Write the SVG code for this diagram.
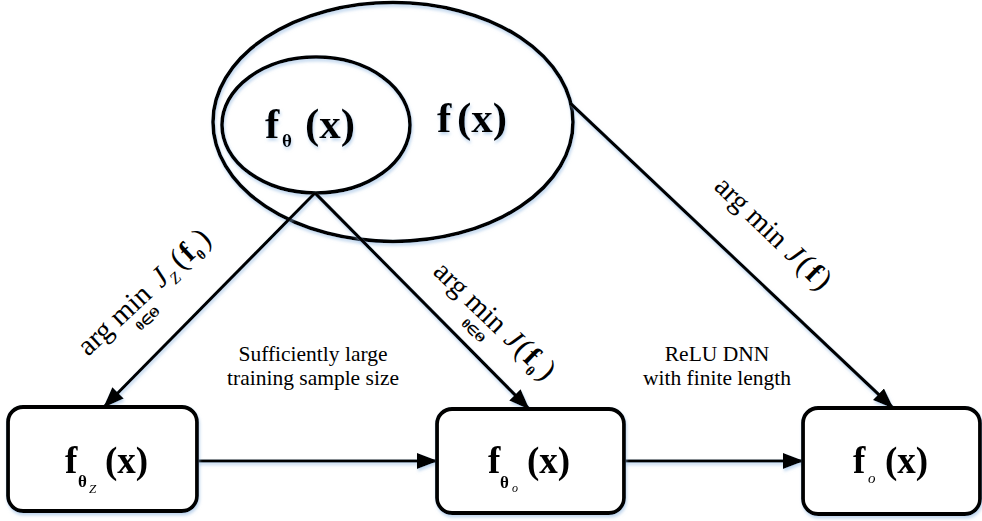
<svg xmlns="http://www.w3.org/2000/svg" width="982" height="521" viewBox="0 0 982 521">
<defs>
<style>
.sh{fill:none;stroke:#000;stroke-width:3.6}
.box{fill:#fff;stroke:#000;stroke-width:3.8}
.ln{fill:none;stroke:#000;stroke-width:3.2;marker-end:url(#ah)}
text{font-family:"Liberation Serif","Times New Roman",serif;fill:#000}
.b{font-weight:bold}
.i{font-style:italic}
.cap{font-size:21.5px}
.am{font-size:29px}
</style>
<filter id="glow" x="-10%" y="-10%" width="120%" height="130%">
<feDropShadow dx="1" dy="2.5" stdDeviation="1.5" flood-color="#8fb6e0" flood-opacity="0.55"/>
</filter>
<marker id="ah" markerUnits="userSpaceOnUse" markerWidth="21" markerHeight="16" refX="20" refY="8" orient="auto">
<path d="M0,0 L21,8 L0,16 z" fill="#000"/>
</marker>
</defs>
<rect width="982" height="521" fill="#fff"/>

<g id="f" filter="url(#glow)">
<ellipse class="sh" cx="393" cy="122" rx="180" ry="119.5"/>
<text class="b" x="437" y="132" font-size="43">f</text>
<text class="b" x="457" y="132" font-size="43">(x)</text>
</g>

<g id="ftheta" filter="url(#glow)">
<ellipse class="sh" cx="316" cy="125" rx="94" ry="68"/>
<text class="b" x="265" y="138" font-size="43">f</text>
<text class="b" x="282" y="147" font-size="19">θ</text>
<text class="b" x="305" y="138" font-size="43">(x)</text>
</g>

<g id="connectors" filter="url(#glow)">
<line class="ln" x1="315" y1="193" x2="104" y2="407"/>
<line class="ln" x1="315" y1="193" x2="529" y2="409"/>
<line class="ln" x1="570" y1="103" x2="893" y2="408"/>
<line class="ln" x1="197" y1="461" x2="437" y2="461"/>
<line class="ln" x1="624" y1="461" x2="803" y2="461"/>
</g>

<g id="label-left" transform="translate(88,357) rotate(-43)">
<text class="am" x="0" y="0">arg min</text>
<text x="70" y="17" font-size="13" text-anchor="middle" class="b">θ∈Θ</text>
<text class="i" x="100" y="0" font-size="29">J</text>
<text class="i" x="113" y="7" font-size="16">Z</text>
<text x="127" y="0" font-size="31">(</text>
<text class="b" x="139" y="0" font-size="29">f</text>
<text class="b" x="149" y="7" font-size="14">θ</text>
<text x="160" y="0" font-size="31">)</text>
</g>

<g id="label-mid" transform="translate(432,273) rotate(44)">
<text class="am" x="0" y="0">arg min</text>
<text x="70" y="17" font-size="13" text-anchor="middle" class="b">θ∈Θ</text>
<text class="i" x="98" y="0" font-size="29">J</text>
<text x="113" y="0" font-size="31">(</text>
<text class="b" x="125" y="0" font-size="29">f</text>
<text class="b" x="135" y="7" font-size="14">θ</text>
<text x="146" y="0" font-size="31">)</text>
</g>

<g id="label-right" transform="translate(713,188) rotate(44)">
<text class="am" x="0" y="0">arg min</text>
<text class="i" x="98" y="0" font-size="29">J</text>
<text x="114" y="0" font-size="31">(</text>
<text class="b" x="127" y="0" font-size="29">f</text>
<text x="139" y="0" font-size="31">)</text>
</g>

<g id="note-sample">
<text class="cap" x="313" y="361" text-anchor="middle">Sufficiently large</text>
<text class="cap" x="313" y="385" text-anchor="middle">training sample size</text>
</g>

<g id="note-relu">
<text class="cap" x="717" y="361" text-anchor="middle">ReLU DNN</text>
<text class="cap" x="717" y="385" text-anchor="middle">with finite length</text>
</g>

<g id="f-thetaZ" filter="url(#glow)">
<rect class="box" x="8" y="407" width="189" height="104" rx="15"/>
<text class="b" x="65" y="473" font-size="37">f</text>
<text class="b" x="78" y="487" font-size="17">θ</text>
<text class="i" x="89" y="493" font-size="13">Z</text>
<text class="b" x="105" y="473" font-size="37">(x)</text>
</g>

<g id="f-thetaO" filter="url(#glow)">
<rect class="box" x="437" y="409" width="187" height="104" rx="15"/>
<text class="b" x="488" y="473" font-size="37">f</text>
<text class="b" x="500" y="488" font-size="17">θ</text>
<text class="i" x="512" y="492" font-size="12">o</text>
<text class="b" x="527" y="473" font-size="37">(x)</text>
</g>

<g id="f-o" filter="url(#glow)">
<rect class="box" x="803" y="408" width="177" height="106" rx="15"/>
<text class="b" x="853" y="473" font-size="37">f</text>
<text class="i" x="868" y="483" font-size="15">o</text>
<text class="b" x="885" y="473" font-size="37">(x)</text>
</g>
</svg>
